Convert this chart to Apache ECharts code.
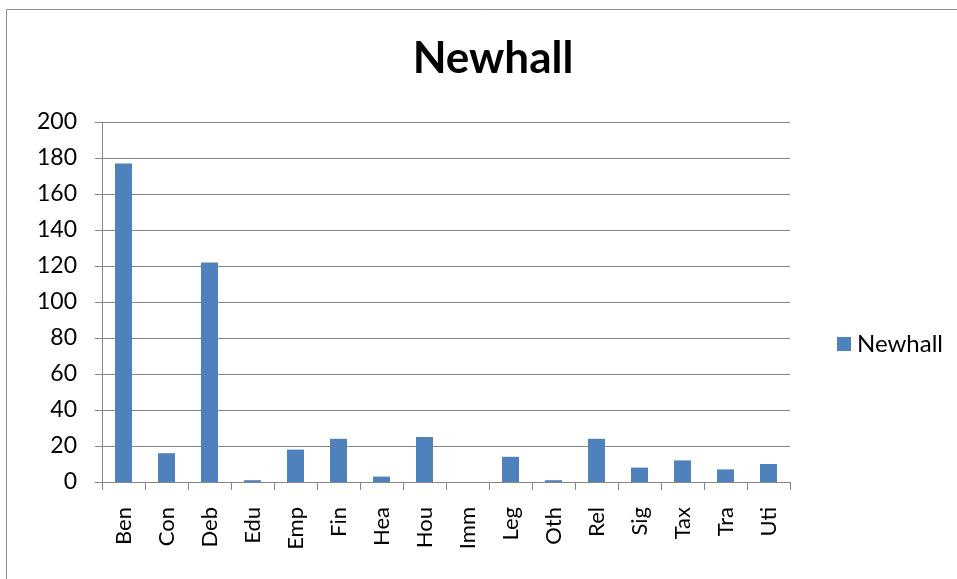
<!DOCTYPE html>
<html><head><meta charset="utf-8">
<script src="https://cdn.jsdelivr.net/npm/echarts@6/dist/echarts.min.js"></script>
<style>html,body{margin:0;padding:0;background:#fff}#c{width:957px;height:579px}</style>
</head><body><div id="c"></div>
<script>
var categories = ["Ben","Con","Deb","Edu","Emp","Fin","Hea","Hou","Imm","Leg","Oth","Rel","Sig","Tax","Tra","Uti"];
var values = [177,16,122,1,18,24,3,25,0,14,1,24,8,12,7,10];
var seriesName = "Newhall";
var chart = echarts.init(document.getElementById('c'), null, {renderer:'canvas'});
var font = 'Lato, "Open Sans", sans-serif';
chart.setOption({
  animation:false,
  graphic:[{type:'rect',shape:{x:6.5,y:9.5,width:1000,height:1000},style:{fill:'none',stroke:'#8c8c8c',lineWidth:1}}],
  title:{text:'Newhall',left:488,textAlign:'center',top:32,textStyle:{fontFamily:font,fontSize:44,fontWeight:'bold',color:'#000'}},
  legend:{show:true,left:832,top:327,itemWidth:14,itemHeight:14,itemGap:6,icon:'rect',textStyle:{fontFamily:font,fontSize:24,color:'#000',padding:[0,0,0,1]},data:[seriesName]},
  grid:{left:102,right:167,top:122,bottom:97,containLabel:false},
  xAxis:{type:'category',data:categories,
    axisLine:{lineStyle:{color:'#868686',width:1}},
    axisTick:{show:true,length:8,alignWithLabel:false,lineStyle:{color:'#868686'}},
    axisLabel:{rotate:90,interval:0,margin:25,fontFamily:font,fontSize:22,color:'#000'}},
  yAxis:{type:'value',min:0,max:200,interval:20,
    axisLine:{show:true,lineStyle:{color:'#868686'}},
    axisTick:{show:true,length:7,lineStyle:{color:'#868686'}},
    axisLabel:{margin:25,fontFamily:font,fontSize:23,color:'#000'},
    splitLine:{lineStyle:{color:'#868686',width:1}}},
  series:[{name:seriesName,type:'bar',data:values,barWidth:17,itemStyle:{color:'#4f81bd'}}]
});
</script></body></html>
